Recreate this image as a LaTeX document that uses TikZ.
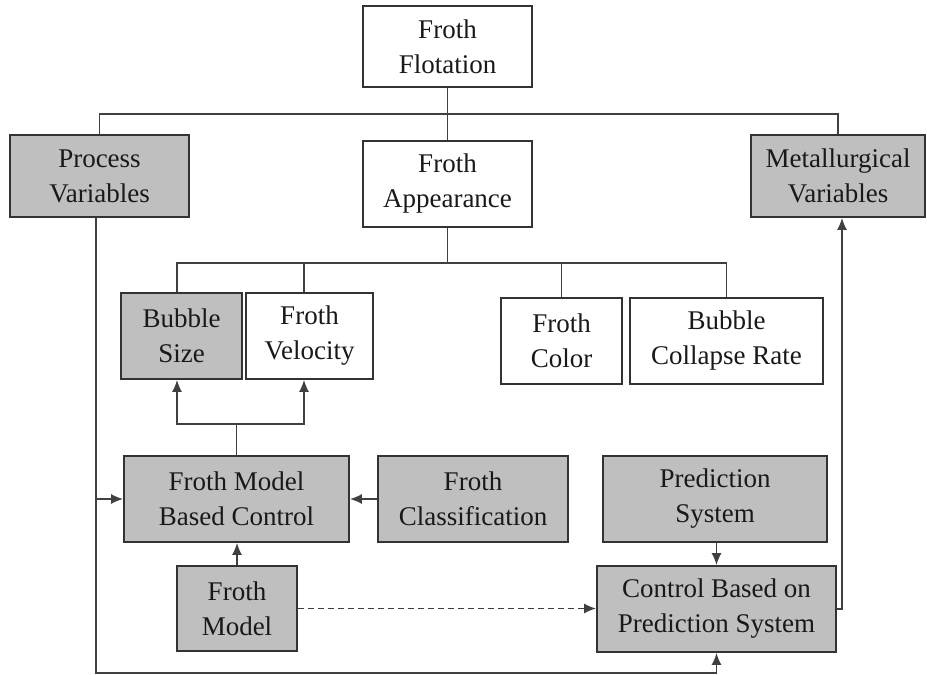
\documentclass[tikz,border=0pt]{standalone}
\usepackage{fontspec}
\setmainfont{Liberation Serif}
\usetikzlibrary{arrows.meta}

\tikzset{
    box/.style={draw=black!80, line width=0.9pt, align=center, inner sep=0pt,
        text=black!90, font=\fontsize{13.5}{17.5}\selectfont},
    greybox/.style={box, fill=gray!50},
    whitebox/.style={box, fill=white},
    link/.style={draw=black!75, line width=0.75pt},
    tip/.tip={Latex[length=6pt,width=5pt]},
    arr/.style={link, -tip},
}

\begin{document}
\begin{tikzpicture}[x=0.5pt, y=-0.5pt]

    \useasboundingbox (0,0) rectangle (927,675);

    % top level
    \node[whitebox, minimum width=84.5pt, minimum height=40.5pt] (flot) at (447.5,46.5) {Froth\\Flotation};
    \node[greybox, minimum width=89.5pt, minimum height=41pt] (pvar) at (99.5,176) {Process\\Variables};
    \node[whitebox, minimum width=84.5pt, minimum height=43pt] (appear) at (447.5,184) {Froth\\Appearance};
    \node[greybox, minimum width=87pt, minimum height=41pt] (metal) at (838,176) {Metallurgical\\Variables};

    % froth features
    \node[greybox, minimum width=60.5pt, minimum height=43pt] (bsize) at (181.5,336) {Bubble\\Size};
    \node[whitebox, minimum width=63.5pt, minimum height=43pt] (fvel) at (309.5,336) {Froth\\Velocity};
    \node[whitebox, minimum width=60.5pt, minimum height=43pt] (fcol) at (561.5,341) {Froth\\Color};
    \node[whitebox, minimum width=96.5pt, minimum height=43pt] (bcol) at (726.5,341) {Bubble\\Collapse Rate};

    % control
    \node[greybox, minimum width=112.5pt, minimum height=43pt] (fmbc) at (236.5,499) {Froth Model\\Based Control};
    \node[greybox, minimum width=95pt, minimum height=43pt] (fcls) at (473,499) {Froth\\Classification};
    \node[greybox, minimum width=112pt, minimum height=43pt] (pred) at (715,499) {Prediction\\System};
    \node[greybox, minimum width=60pt, minimum height=42.5pt] (fmod) at (237,608.5) {Froth\\Model};
    \node[greybox, minimum width=119.5pt, minimum height=43pt] (cbps) at (716.5,609) {Control Based on\\Prediction System};

    \coordinate (bus1) at (447.5,114);
    \coordinate (bus2) at (447.5,263);
    \coordinate (upL) at (177,424);
    \coordinate (upR) at (304,424);
    \coordinate (lx) at (96,0);
    \coordinate (rx) at (842,0);
    \coordinate (lb) at (400,673);

    \draw[link] (flot.south) -- (appear.north);
    \draw[link] (pvar.north) |- (bus1) -| (metal.north);
    \draw[link] (appear.south) -- (bus2);
    \draw[link] (upL |- bsize.north) |- (bus2) -| (bcol.north);
    \draw[link] (upR |- fvel.north) -- (upR |- bus2);
    \draw[link] (fcol.north) -- (fcol.north |- bus2);

    \draw[link] (fmbc.north) -- (fmbc.north |- upL);
    \draw[link, tip-tip] (upL |- bsize.south) -- (upL) -- (upR) -- (upR |- fvel.south);

    \draw[arr] (fcls.west) -- (fmbc.east);
    \draw[arr] (fmod.north) -- (fmod.north |- fmbc.south);
    \draw[arr, dash pattern=on 3pt off 2pt] (fmod.east) -- (fmod.east -| cbps.west);
    \draw[arr] (pred.south -| cbps.north) -- (cbps.north);
    \draw[arr] (cbps.east) -| (rx |- metal.south);

    \draw[arr] (lx |- pvar.south) |- (lb) -| (cbps.south);
    \draw[arr] (lx |- fmbc.west) -- (fmbc.west);

\end{tikzpicture}
\end{document}
